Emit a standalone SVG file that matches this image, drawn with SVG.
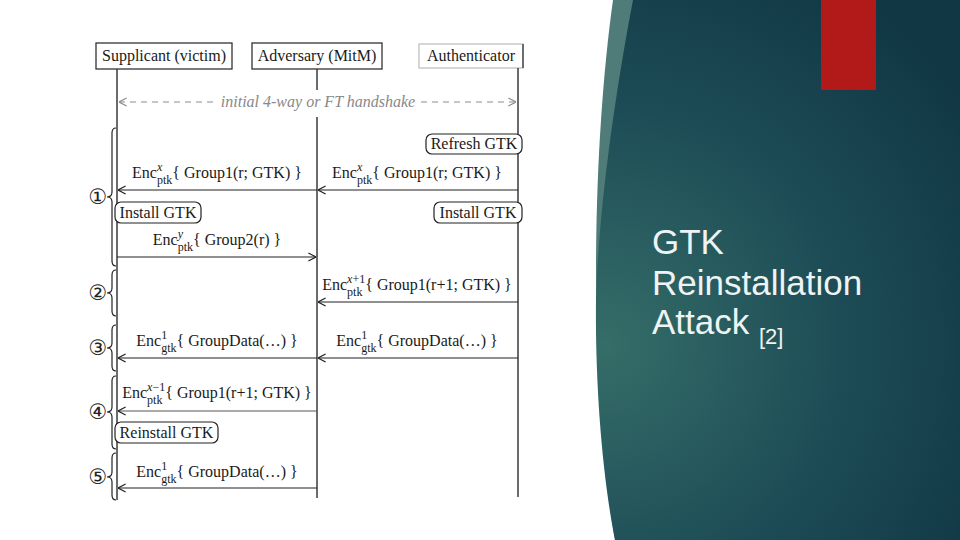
<svg xmlns="http://www.w3.org/2000/svg" width="960" height="540" viewBox="0 0 960 540">
<style>
.t{font-family:"Liberation Serif","DejaVu Serif",serif;font-size:16px;fill:#1a1a1a}
.s{font-size:12px}
.it{font-style:italic}
.box{fill:#fff;stroke:#333;stroke-width:1.3}
.rbox{fill:#fff;stroke:#222;stroke-width:1.2}
.life{stroke:#3a3a3a;stroke-width:1.5;fill:none}
.msg{stroke:#222;stroke-width:1.2;fill:none;marker-end:url(#ah)}
.brace{stroke:#222;stroke-width:1.2;fill:none}
.num{font-family:"DejaVu Sans","Noto Sans CJK SC",sans-serif;font-size:21px;fill:#222}
.title{font-family:"Liberation Sans","Arial",sans-serif;fill:#eef3f3}
</style>
<defs>
<marker id="ah" viewBox="0 0 10 10" refX="9.5" refY="5" markerWidth="9" markerHeight="10" markerUnits="userSpaceOnUse" orient="auto">
<path d="M1,0.5 L9.5,5 L1,9.5" fill="none" stroke="#222" stroke-width="1.3"/>
</marker>
<marker id="ahg" viewBox="0 0 10 10" refX="9.5" refY="5" markerWidth="9" markerHeight="10" markerUnits="userSpaceOnUse" orient="auto-start-reverse">
<path d="M1,0.5 L9.5,5 L1,9.5" fill="none" stroke="#8c8c8c" stroke-width="1.3"/>
</marker>
<radialGradient id="bg" cx="605" cy="345" r="430" gradientUnits="userSpaceOnUse">
<stop offset="0" stop-color="#356d68"/>
<stop offset="0.55" stop-color="#1d4c56"/>
<stop offset="1" stop-color="#113745"/>
</radialGradient>
</defs>
<rect width="960" height="540" fill="#fff"/>

<g id="background-panel">
<path d="M613,0 C592,150 588,380 615,540 L960,540 L960,0 Z" fill="#4f7b79"/>
<path d="M633,0 C612,110 598,220 596,300 C595,390 603,480 615,540 L960,540 L960,0 Z" fill="url(#bg)"/>
<rect x="821" y="0" width="55" height="90" fill="#b21a19"/>
</g>

<g id="title">
<text class="title" x="652" y="254" font-size="35">GTK</text>
<text class="title" x="652" y="295" font-size="35">Reinstallation</text>
<text class="title" x="652" y="334" font-size="35">Attack <tspan font-size="22" dy="10">[2]</tspan></text>
</g>

<g id="supplicant">
<rect class="box" x="96" y="43" width="136" height="26"/>
<text class="t" x="164" y="61" text-anchor="middle">Supplicant (victim)</text>
</g>
<g id="adversary">
<rect class="box" x="252" y="43" width="130" height="26"/>
<text class="t" x="317" y="61" text-anchor="middle">Adversary (MitM)</text>
</g>
<g id="authenticator">
<rect x="419" y="44" width="104" height="24" fill="#fff" stroke="#bbb" stroke-width="1.2"/>
<line x1="523" y1="44" x2="523" y2="68" stroke="#333" stroke-width="1.3"/>
<text class="t" x="471" y="61" text-anchor="middle">Authenticator</text>
</g>

<g id="lifelines">
<line class="life" x1="117" y1="69" x2="117" y2="500"/>
<line class="life" x1="317" y1="69" x2="317" y2="90"/>
<line class="life" x1="317" y1="117" x2="317" y2="498"/>
<line class="life" x1="518" y1="68" x2="518" y2="497"/>
</g>

<g id="handshake">
<line x1="213" y1="102" x2="119" y2="102" stroke="#8c8c8c" stroke-width="1.2" stroke-dasharray="6 5" marker-end="url(#ahg)"/>
<line x1="421" y1="102" x2="516" y2="102" stroke="#8c8c8c" stroke-width="1.2" stroke-dasharray="6 5" marker-end="url(#ahg)"/>
<text class="t it" x="318" y="107" text-anchor="middle" style="fill:#888">initial 4-way or FT handshake</text>
</g>

<g id="refresh-gtk">
<rect class="rbox" x="426" y="134" width="96" height="20" rx="6"/>
<text class="t" x="474" y="149" text-anchor="middle">Refresh GTK</text>
</g>
<g id="install-gtk-supplicant">
<rect class="rbox" x="115" y="202" width="86" height="21" rx="6"/>
<text class="t" x="158" y="218" text-anchor="middle">Install GTK</text>
</g>
<g id="install-gtk-authenticator">
<rect class="rbox" x="434" y="202" width="88" height="21" rx="6"/>
<text class="t" x="478" y="218" text-anchor="middle">Install GTK</text>
</g>
<g id="reinstall-gtk">
<rect class="rbox" x="115" y="422" width="103" height="21" rx="6"/>
<text class="t" x="166.5" y="438" text-anchor="middle">Reinstall GTK</text>
</g>

<g id="connectors">
<line class="msg" x1="518" y1="190" x2="318" y2="190"/>
<line class="msg" x1="317" y1="190" x2="118" y2="190"/>
<line class="msg" x1="117" y1="257" x2="316" y2="257"/>
<line class="msg" x1="518" y1="302" x2="318" y2="302"/>
<line class="msg" x1="518" y1="358" x2="318" y2="358"/>
<line class="msg" x1="317" y1="358" x2="118" y2="358"/>
<line class="msg" x1="317" y1="411" x2="118" y2="411" style="stroke:#555;stroke-width:1"/>
<line class="msg" x1="317" y1="488" x2="118" y2="488"/>
</g>

<g id="labels">
<text class="t" x="417" y="178" text-anchor="middle">Enc<tspan class="s it" dy="-7">x</tspan><tspan class="s" dx="-5.3" dy="13">ptk</tspan><tspan dy="-6">{ Group1(r; GTK) }</tspan></text>
<text class="t" x="217" y="178" text-anchor="middle">Enc<tspan class="s it" dy="-7">x</tspan><tspan class="s" dx="-5.3" dy="13">ptk</tspan><tspan dy="-6">{ Group1(r; GTK) }</tspan></text>
<text class="t" x="217" y="245" text-anchor="middle">Enc<tspan class="s it" dy="-7">y</tspan><tspan class="s" dx="-5.3" dy="13">ptk</tspan><tspan dy="-6">{ Group2(r) }</tspan></text>
<text class="t" x="417" y="290" text-anchor="middle">Enc<tspan class="s" dy="-7"><tspan class="it">x</tspan>+1</tspan><tspan class="s" dx="-18.1" dy="13">ptk</tspan><tspan dx="2.8" dy="-6">{ Group1(r+1; GTK) }</tspan></text>
<text class="t" x="417" y="346" text-anchor="middle">Enc<tspan class="s" dy="-7">1</tspan><tspan class="s" dx="-6" dy="13">gtk</tspan><tspan dy="-6">{ GroupData(…) }</tspan></text>
<text class="t" x="217" y="346" text-anchor="middle">Enc<tspan class="s" dy="-7">1</tspan><tspan class="s" dx="-6" dy="13">gtk</tspan><tspan dy="-6">{ GroupData(…) }</tspan></text>
<text class="t" x="217" y="398" text-anchor="middle">Enc<tspan class="s" dy="-7"><tspan class="it">x</tspan>−1</tspan><tspan class="s" dx="-18.1" dy="13">ptk</tspan><tspan dx="2.8" dy="-6">{ Group1(r+1; GTK) }</tspan></text>
<text class="t" x="217" y="477" text-anchor="middle">Enc<tspan class="s" dy="-7">1</tspan><tspan class="s" dx="-6" dy="13">gtk</tspan><tspan dy="-6">{ GroupData(…) }</tspan></text>
</g>

<g id="phases">
<path class="brace" d="M116,128 Q112,128 112,133 L112,192 Q112,197 107,197 Q112,197 112,202 L112,261 Q112,266 116,266"/>
<text class="num" x="98" y="204" text-anchor="middle">①</text>
<path class="brace" d="M116,270 Q112,270 112,275 L112,288 Q112,293 107,293 Q112,293 112,298 L112,311 Q112,316 116,316"/>
<text class="num" x="98" y="300" text-anchor="middle">②</text>
<path class="brace" d="M116,325 Q112,325 112,330 L112,343 Q112,348 107,348 Q112,348 112,353 L112,366 Q112,371 116,371"/>
<text class="num" x="98" y="355" text-anchor="middle">③</text>
<path class="brace" d="M116,376 Q112,376 112,381 L112,407 Q112,412 107,412 Q112,412 112,417 L112,444 Q112,449 116,449"/>
<text class="num" x="98" y="419" text-anchor="middle">④</text>
<path class="brace" d="M116,453 Q112,453 112,458 L112,472 Q112,477 107,477 Q112,477 112,482 L112,495 Q112,500 116,500"/>
<text class="num" x="98" y="484" text-anchor="middle">⑤</text>
</g>
</svg>
